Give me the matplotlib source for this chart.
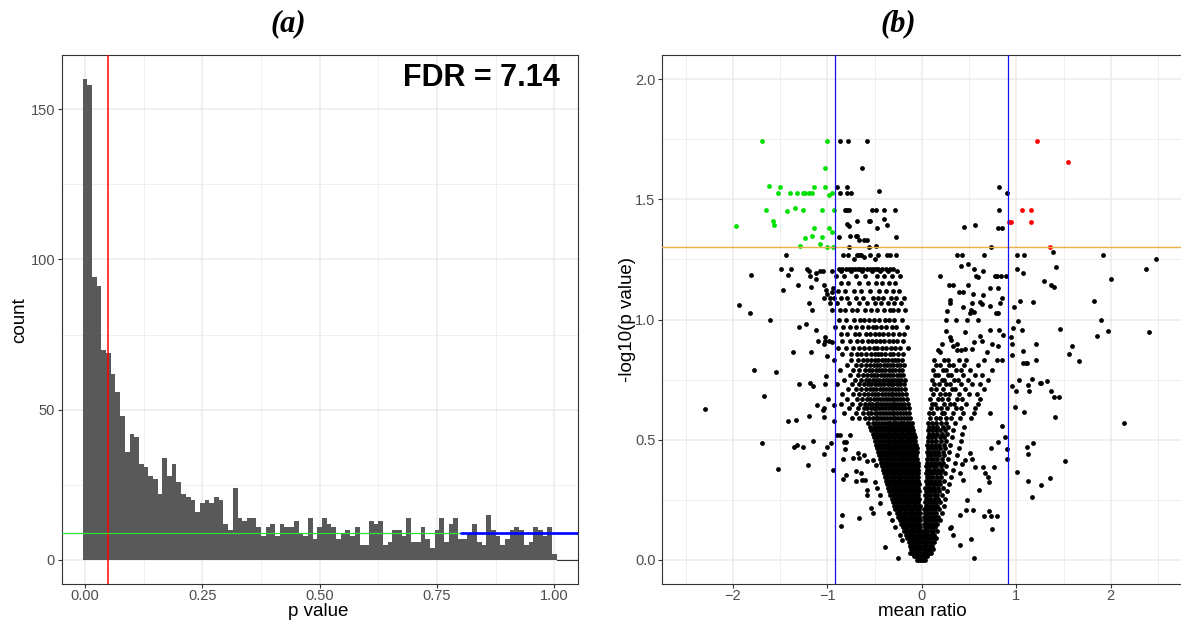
import matplotlib
matplotlib.use("Agg")
import matplotlib.pyplot as plt
from matplotlib.ticker import FixedLocator
import numpy as np

# ---------------- panel (a): p-value histogram ----------------
p_bin_width = 0.01
p_counts = [160, 158, 94, 91, 70, 69, 62, 56, 48, 36,
            42, 41, 32, 31, 28, 27, 22, 34, 28, 32,
            26, 22, 21, 20, 16, 19, 20, 19, 21, 20,
            12, 10, 24, 14, 13, 14, 14, 11, 8, 11,
            12, 8, 12, 11, 11, 13, 9, 8, 14, 7,
            11, 14, 12, 11, 7, 9, 10, 8, 11, 5,
            5, 13, 12, 13, 5, 6, 10, 10, 8, 14,
            6, 6, 11, 7, 4, 10, 14, 6, 12, 14,
            7, 7, 9, 12, 6, 5, 15, 10, 8, 5,
            7, 10, 11, 10, 5, 6, 11, 10, 8, 11,
            2]
p_cutoff = 0.05
null_level = 8.9
null_start = 0.8
fdr_label = "FDR = 7.14"
hist_xticks = [0.0, 0.25, 0.5, 0.75, 1.0]
hist_xticklabels = ["0.00", "0.25", "0.50", "0.75", "1.00"]
hist_yticks = [0, 50, 100, 150]

# ---------------- panel (b): volcano plot ----------------
ratio_cut = 0.915
logp_cut = 1.301
volc_xticks = [-2, -1, 0, 1, 2]
volc_yticks = [0.0, 0.5, 1.0, 1.5, 2.0]

sig_down_x = [-1.69, -1.007, -1.022, -1.615, -1.505, -1.520, -1.393, -1.322, -1.262, -1.234,
              -1.198, -1.163, -1.139, -1.022, -0.951, -0.980, -1.650, -1.425, -1.347, -1.262,
              -1.061, -0.927, -1.965, -1.580, -1.562, -1.139, -0.980, -0.951, -1.234, -1.160,
              -1.057, -1.290, -1.075, -1.001, -0.938]
sig_down_y = [1.744, 1.744, 1.631, 1.557, 1.550, 1.525, 1.525, 1.525, 1.525, 1.525,
              1.525, 1.525, 1.550, 1.550, 1.525, 1.516, 1.454, 1.450, 1.463, 1.454,
              1.454, 1.454, 1.387, 1.408, 1.391, 1.380, 1.380, 1.362, 1.341, 1.349,
              1.344, 1.307, 1.314, 1.303, 1.303]

sig_up_x = [1.223, 1.545, 1.061, 1.157, 0.945, 0.927, 1.157, 1.355]
sig_up_y = [1.744, 1.654, 1.454, 1.454, 1.407, 1.407, 1.407, 1.303]

# scattered (non-significant) points read individually
other_x = [-0.863, -0.779, -0.581, -0.634, -0.902, -0.792, -0.866, -0.796, -0.750, -0.457,
           -0.81, -0.79, -0.77, -0.531, -0.488, -0.400, -0.281, -0.683, -0.789, -0.768,
           -0.563, -0.549, -0.397, -0.471, -0.369, -0.881, -0.761, -0.697, -0.683, -0.58,
           -0.615, -0.66, -0.273, -0.768, -0.563, -0.482,
           0.818, 0.906, 0.814, 0.450, 0.560, 0.81, 0.846, 0.737,
           -1.442, -0.832, -0.61, 0.373, 0.429, 0.659, 1.005, 1.083, 1.393, 1.916,
           2.474, 0.486, 0.415, 1.425, -1.488, -1.389, -1.213, -1.08, -1.05, -0.95,
           -1.19, 0.55, 0.65, 1.005, 2.372, 1.072, -1.809, -1.421, -1.124, -1.12,
           -1.18, 0.193, 0.577, 0.6, 0.78, 0.80, 0.84, 0.89, 1.289, 2.0,
           1.372, 1.401, -1.308, -1.171, -1.033, -1.015, -1.004, -0.951, -0.937, -1.474,
           1.040, 1.181, 1.824, 0.977, -1.04, -0.97, -0.93, -1.19, -0.97, -1.936,
           -1.16, -0.95, -1.817, -1.608, 1.895, 1.019, -1.230, -1.304, -1.121, 1.065,
           0.966, 1.467, 1.976, 2.40, 1.856, -1.022, 0.94, -1.10, -1.03, -1.02,
           -0.98, -0.95, 0.95, 1.206, 1.594, 1.075, -1.364, -1.177, 1.563, 0.95,
           -1.008, 1.213, 1.665, 1.075, 1.10, 1.115, -1.781, -1.544, -1.018, 1.164,
           1.026, 1.33, 1.25, 1.26, -1.184, -1.02, -1.298, 1.125, -1.149, 0.95,
           0.994, 1.139, 1.372, -1.675, 1.397, 1.450, -0.99, -1.107, -0.93, 0.990,
           -2.293, -1.03, -1.05, 1.079, -1.19, 1.411, -1.04, -1.333, -1.417, -0.93,
           2.139,
           -1.149, -0.962, -1.696, 1.178, 1.109, -1.357, -1.325, -1.255, -1.00, -1.04,
           1.122, -1.209, -1.523, -0.944, 1.514, 1.012, 1.128, 1.266, 1.355, 1.162,
           -0.831, -0.838, -0.803, -0.70, -0.647, -0.70, -0.634, -0.602, -0.732, -0.672,
           -0.66, -0.609, -0.577, -0.496, -0.478, -0.577, -0.443, -0.849, -0.662, -0.859,
           -0.541, -0.514, -0.443, -0.390, -0.249, -0.344, -0.319, -0.284, -0.231, -0.213,
           -0.125, -0.867, -0.90, -0.76, -0.82, -0.80, -0.81, -0.52, -0.49, -0.58,
           0.846, 0.881, 0.906, 0.906, 0.810, 0.733, 0.765, 0.715, 0.705, 0.609,
           0.564, 0.645, 0.669, 0.511, 0.405, 0.440, 0.476, 0.468, 0.546, 0.405,
           0.662, 0.733, 0.793, 0.715, 0.747, 0.518, 0.556, 0.405, 0.334, 0.306,
           0.30, 0.53, 0.46, 0.43,
           0.291, 0.334, 0.486, 0.397, 0.44, 0.539, 0.645, 0.722, 0.81, 0.846,
           0.299, 0.299, 0.44, 0.535, 0.617, 0.635, 0.722, 0.828, 0.264, 0.52,
           0.55, 0.51, 0.786, 0.81, 0.256, 0.359, 0.476, 0.599, 0.256, 0.456,
           0.617, 0.635, 0.722, 0.82, 0.863, 0.30, 0.31, 0.21, 0.175, 0.193,
           0.334, 0.37, 0.37, 0.42, 0.456, 0.535, 0.55, 0.69, 0.74, 0.81,
           0.846]
other_y = [1.744, 1.744, 1.744, 1.630, 1.550, 1.550, 1.525, 1.525, 1.525, 1.534,
           1.454, 1.454, 1.454, 1.454, 1.454, 1.454, 1.454, 1.408, 1.396, 1.387,
           1.408, 1.408, 1.420, 1.380, 1.391, 1.344, 1.349, 1.349, 1.349, 1.33,
           1.33, 1.33, 1.343, 1.303, 1.303, 1.307,
           1.550, 1.525, 1.454, 1.384, 1.391, 1.380, 1.380, 1.303,
           1.270, 1.270, 1.26, 1.269, 1.270, 1.270, 1.270, 1.270, 1.281, 1.270,
           1.25, 1.232, 1.222, 1.22, 1.21, 1.21, 1.21, 1.20, 1.20, 1.20,
           1.20, 1.21, 1.20, 1.21, 1.21, 1.193, 1.185, 1.183, 1.195, 1.169,
           1.18, 1.18, 1.18, 1.175, 1.18, 1.18, 1.18, 1.18, 1.161, 1.167,
           1.143, 1.134, 1.143, 1.134, 1.145, 1.122, 1.105, 1.115, 1.131, 1.122,
           1.076, 1.071, 1.075, 1.052, 1.09, 1.09, 1.09, 1.07, 1.07, 1.062,
           1.04, 1.04, 1.025, 1.0, 1.0, 0.992, 0.983, 0.969, 0.957, 0.957,
           0.965, 0.960, 0.954, 0.946, 0.932, 0.928, 0.928, 0.91, 0.90, 0.91,
           0.91, 0.905, 0.899, 0.899, 0.889, 0.870, 0.863, 0.863, 0.857, 0.852,
           0.849, 0.830, 0.827, 0.82, 0.82, 0.82, 0.789, 0.782, 0.763, 0.751,
           0.749, 0.745, 0.735, 0.735, 0.735, 0.733, 0.730, 0.727, 0.725, 0.725,
           0.703, 0.703, 0.703, 0.681, 0.677, 0.677, 0.67, 0.644, 0.644, 0.636,
           0.629, 0.63, 0.622, 0.614, 0.598, 0.596, 0.594, 0.583, 0.578, 0.578,
           0.569,
           0.494, 0.486, 0.485, 0.486, 0.471, 0.47, 0.476, 0.47, 0.47, 0.44,
           0.44, 0.396, 0.378, 0.374, 0.410, 0.367, 0.330, 0.312, 0.339, 0.263,
           0.418, 0.335, 0.353, 0.370, 0.360, 0.330, 0.332, 0.332, 0.425, 0.443,
           0.425, 0.436, 0.291, 0.325, 0.298, 0.270, 0.270, 0.187, 0.173, 0.141,
           0.217, 0.197, 0.235, 0.053, 0.010, 0.194, 0.166, 0.138, 0.104, 0.083,
           0.028, 0.519, 0.52, 0.52, 0.49, 0.49, 0.46, 0.415, 0.395, 0.41,
           0.558, 0.512, 0.461, 0.421, 0.489, 0.467, 0.385, 0.325, 0.346, 0.291,
           0.388, 0.388, 0.360, 0.443, 0.360, 0.332, 0.249, 0.208, 0.208, 0.187,
           0.184, 0.184, 0.184, 0.205, 0.129, 0.087, 0.010, 0.062, 0.104, 0.138,
           0.132, 0.42, 0.415, 0.40,
           1.145, 1.145, 1.142, 1.113, 1.113, 1.108, 1.102, 1.133, 1.133, 1.091,
           1.083, 1.069, 1.052, 1.069, 1.073, 1.065, 1.058, 1.070, 1.035, 1.04,
           1.03, 1.025, 1.025, 1.025, 1.0, 1.0, 1.0, 1.0, 0.953, 0.947,
           0.932, 0.911, 0.958, 0.955, 0.935, 0.928, 0.914, 0.897, 0.872, 0.866,
           0.89, 0.897, 0.872, 0.875, 0.877, 0.879, 0.906, 0.864, 0.897, 0.89,
           0.83]

# dense left arm of the volcano, read row by row: (-log10 p, [mean ratios])
left_arm_rows = [
    (0.000, [-0.05, -0.03, -0.01, 0.01, 0.03]),
    (0.015, [-0.08, -0.06, -0.04, -0.02, 0.00, 0.02, 0.04, 0.06]),
    (0.030, [-0.10, -0.08, -0.055, -0.035, -0.015]),
    (0.045, [-0.11, -0.09, -0.07, -0.05, -0.03, -0.01]),
    (0.060, [-0.13, -0.105, -0.085, -0.06, -0.04, -0.02]),
    (0.075, [-0.14, -0.12, -0.095, -0.075, -0.05, -0.03, -0.01]),
    (0.090, [-0.16, -0.135, -0.11, -0.09, -0.065, -0.045, -0.02]),
    (0.105, [-0.17, -0.15, -0.125, -0.10, -0.08, -0.055, -0.03, -0.01]),
    (0.120, [-0.19, -0.165, -0.14, -0.115, -0.09, -0.07, -0.045, -0.02]),
    (0.135, [-0.20, -0.18, -0.155, -0.13, -0.105, -0.08, -0.06, -0.035, -0.015]),
    (0.150, [-0.22, -0.195, -0.17, -0.145, -0.12, -0.095, -0.07, -0.05, -0.025]),
    (0.165, [-0.235, -0.21, -0.185, -0.16, -0.135, -0.11, -0.085, -0.06, -0.035, -0.015]),
    (0.180, [-0.25, -0.225, -0.20, -0.175, -0.15, -0.125, -0.10, -0.075, -0.05, -0.025]),
    (0.195, [-0.265, -0.24, -0.215, -0.19, -0.165, -0.14, -0.115, -0.09, -0.065, -0.04, -0.02]),
    (0.210, [-0.28, -0.255, -0.23, -0.205, -0.18, -0.155, -0.13, -0.105, -0.08, -0.055, -0.03]),
    (0.225, [-0.295, -0.27, -0.245, -0.22, -0.195, -0.17, -0.145, -0.12, -0.095, -0.07, -0.045, -0.02]),
    (0.240, [-0.31, -0.285, -0.26, -0.235, -0.21, -0.185, -0.16, -0.135, -0.11, -0.085, -0.06, -0.035]),
    (0.255, [-0.32, -0.295, -0.27, -0.245, -0.22, -0.195, -0.17, -0.145, -0.12, -0.095, -0.07, -0.045, -0.025]),
    (0.270, [-0.335, -0.31, -0.285, -0.26, -0.235, -0.21, -0.185, -0.16, -0.135, -0.11, -0.085, -0.06, -0.035]),
    (0.285, [-0.35, -0.32, -0.295, -0.27, -0.245, -0.22, -0.195, -0.17, -0.145, -0.12, -0.095, -0.07, -0.045, -0.025]),
    (0.300, [-0.36, -0.335, -0.31, -0.285, -0.26, -0.235, -0.21, -0.185, -0.16, -0.135, -0.11, -0.085, -0.06, -0.035]),
    (0.315, [-0.37, -0.345, -0.32, -0.295, -0.27, -0.245, -0.22, -0.195, -0.17, -0.145, -0.12, -0.095, -0.07, -0.045, -0.03]),
    (0.330, [-0.38, -0.355, -0.33, -0.305, -0.28, -0.255, -0.23, -0.205, -0.18, -0.155, -0.13, -0.105, -0.08, -0.055, -0.035]),
    (0.345, [-0.39, -0.365, -0.34, -0.315, -0.29, -0.265, -0.24, -0.215, -0.19, -0.165, -0.14, -0.115, -0.09, -0.065, -0.04]),
    (0.360, [-0.40, -0.37, -0.345, -0.32, -0.295, -0.27, -0.245, -0.22, -0.195, -0.17, -0.145, -0.12, -0.095, -0.07, -0.045]),
    (0.375, [-0.41, -0.38, -0.355, -0.33, -0.305, -0.28, -0.255, -0.23, -0.205, -0.18, -0.155, -0.13, -0.105, -0.08, -0.055, -0.035]),
    (0.390, [-0.42, -0.39, -0.36, -0.335, -0.31, -0.285, -0.26, -0.235, -0.21, -0.185, -0.16, -0.135, -0.11, -0.085, -0.06, -0.04]),
    (0.405, [-0.43, -0.40, -0.37, -0.345, -0.32, -0.295, -0.27, -0.245, -0.22, -0.195, -0.17, -0.145, -0.12, -0.095, -0.07, -0.045]),
    (0.420, [-0.44, -0.41, -0.38, -0.355, -0.33, -0.305, -0.28, -0.255, -0.23, -0.205, -0.18, -0.155, -0.13, -0.105, -0.08, -0.055]),
    (0.435, [-0.45, -0.42, -0.39, -0.36, -0.335, -0.31, -0.285, -0.26, -0.235, -0.21, -0.185, -0.16, -0.135, -0.11, -0.085, -0.06]),
    (0.450, [-0.46, -0.43, -0.40, -0.37, -0.345, -0.32, -0.295, -0.27, -0.245, -0.22, -0.195, -0.17, -0.145, -0.12, -0.095, -0.07, -0.05]),
    (0.465, [-0.47, -0.44, -0.41, -0.38, -0.355, -0.33, -0.305, -0.28, -0.255, -0.23, -0.205, -0.18, -0.155, -0.13, -0.105, -0.08, -0.055]),
    (0.480, [-0.48, -0.45, -0.42, -0.39, -0.36, -0.335, -0.31, -0.285, -0.26, -0.235, -0.21, -0.185, -0.16, -0.135, -0.11, -0.085, -0.06]),
    (0.495, [-0.50, -0.46, -0.43, -0.40, -0.37, -0.345, -0.32, -0.295, -0.27, -0.245, -0.22, -0.195, -0.17, -0.145, -0.12, -0.095, -0.07]),
    (0.510, [-0.51, -0.47, -0.44, -0.41, -0.38, -0.355, -0.33, -0.305, -0.28, -0.255, -0.23, -0.205, -0.18, -0.155, -0.13, -0.105, -0.075]),
    (0.525, [-0.52, -0.48, -0.45, -0.42, -0.39, -0.36, -0.335, -0.31, -0.285, -0.26, -0.235, -0.21, -0.185, -0.16, -0.135, -0.11, -0.08]),
    (0.540, [-0.54, -0.50, -0.46, -0.43, -0.40, -0.37, -0.345, -0.32, -0.295, -0.27, -0.245, -0.22, -0.195, -0.17, -0.145, -0.12, -0.09]),
    (0.555, [-0.55, -0.51, -0.47, -0.44, -0.41, -0.38, -0.355, -0.33, -0.305, -0.28, -0.255, -0.23, -0.205, -0.18, -0.155, -0.13, -0.10]),
    (0.570, [-0.57, -0.52, -0.48, -0.45, -0.42, -0.39, -0.36, -0.335, -0.31, -0.285, -0.26, -0.235, -0.21, -0.185, -0.16, -0.135, -0.105]),
    (0.590, [-0.74, -0.66, -0.60, -0.555, -0.52, -0.49, -0.46, -0.43, -0.40, -0.37, -0.34, -0.31, -0.28, -0.25, -0.22, -0.19, -0.16, -0.12]),
    (0.610, [-0.82, -0.70, -0.62, -0.57, -0.535, -0.50, -0.47, -0.44, -0.41, -0.38, -0.35, -0.32, -0.29, -0.26, -0.23, -0.20, -0.17, -0.135]),
    (0.630, [-0.77, -0.68, -0.61, -0.575, -0.54, -0.51, -0.48, -0.45, -0.42, -0.39, -0.36, -0.33, -0.30, -0.27, -0.24, -0.21, -0.18, -0.14]),
    (0.650, [-0.86, -0.74, -0.65, -0.60, -0.56, -0.525, -0.49, -0.46, -0.43, -0.40, -0.37, -0.34, -0.31, -0.28, -0.25, -0.22, -0.19, -0.15]),
    (0.670, [-0.79, -0.69, -0.63, -0.58, -0.545, -0.51, -0.475, -0.44, -0.41, -0.38, -0.35, -0.32, -0.29, -0.26, -0.23, -0.195, -0.16]),
    (0.690, [-0.84, -0.73, -0.66, -0.61, -0.565, -0.53, -0.495, -0.46, -0.425, -0.39, -0.36, -0.33, -0.30, -0.27, -0.24, -0.205, -0.17]),
    (0.710, [-0.78, -0.70, -0.64, -0.59, -0.55, -0.515, -0.48, -0.445, -0.41, -0.375, -0.345, -0.315, -0.285, -0.25, -0.215, -0.18]),
    (0.730, [-0.90, -0.74, -0.67, -0.615, -0.57, -0.535, -0.50, -0.465, -0.43, -0.395, -0.36, -0.33, -0.30, -0.265, -0.23, -0.19]),
    (0.750, [-0.82, -0.71, -0.645, -0.595, -0.555, -0.52, -0.485, -0.45, -0.415, -0.38, -0.35, -0.32, -0.285, -0.25, -0.215, -0.18]),
    (0.770, [-0.76, -0.68, -0.625, -0.58, -0.54, -0.505, -0.47, -0.435, -0.40, -0.365, -0.335, -0.30, -0.265, -0.23, -0.195]),
    (0.790, [-0.87, -0.73, -0.66, -0.605, -0.56, -0.525, -0.49, -0.455, -0.42, -0.385, -0.35, -0.315, -0.28, -0.245, -0.21]),
    (0.810, [-0.79, -0.70, -0.64, -0.59, -0.55, -0.51, -0.475, -0.44, -0.405, -0.37, -0.335, -0.30, -0.265, -0.23, -0.19]),
    (0.830, [-0.93, -0.75, -0.675, -0.62, -0.575, -0.535, -0.495, -0.46, -0.425, -0.39, -0.355, -0.32, -0.285, -0.25, -0.21]),
    (0.855, [-0.84, -0.75, -0.69, -0.64, -0.59, -0.54, -0.50, -0.46, -0.43, -0.39, -0.34, -0.30, -0.25, -0.20]),
    (0.880, [-0.89, -0.80, -0.73, -0.67, -0.61, -0.56, -0.51, -0.47, -0.42, -0.38, -0.33, -0.28, -0.23, -0.15]),
    (0.910, [-0.84, -0.76, -0.69, -0.63, -0.57, -0.53, -0.49, -0.44, -0.40, -0.35, -0.31, -0.26, -0.20]),
    (0.940, [-0.86, -0.79, -0.71, -0.66, -0.59, -0.55, -0.50, -0.45, -0.41, -0.36, -0.30, -0.24, -0.19]),
    (0.970, [-0.92, -0.83, -0.76, -0.70, -0.63, -0.57, -0.52, -0.48, -0.43, -0.38, -0.32, -0.27, -0.16]),
    (1.000, [-0.88, -0.80, -0.72, -0.65, -0.61, -0.56, -0.51, -0.45, -0.39, -0.35, -0.29, -0.21]),
    (1.040, [-0.87, -0.81, -0.74, -0.69, -0.60, -0.54, -0.47, -0.40, -0.34, -0.31, -0.25, -0.18]),
    (1.070, [-0.90, -0.77, -0.67, -0.58, -0.50, -0.43, -0.36, -0.29, -0.22]),
    (1.090, [-0.85, -0.79, -0.70, -0.62, -0.52, -0.46, -0.41, -0.33, -0.27, -0.19]),
    (1.120, [-0.89, -0.81, -0.72, -0.64, -0.55, -0.45, -0.38, -0.30, -0.24]),
    (1.150, [-0.86, -0.78, -0.66, -0.57, -0.49, -0.42, -0.35, -0.28]),
    (1.180, [-0.91, -0.82, -0.70, -0.60, -0.47, -0.40, -0.32, -0.23]),
    (1.200, [-0.86, -0.75, -0.63, -0.53, -0.44, -0.36, -0.26]),
    (1.210, [-0.88, -0.84, -0.80, -0.77, -0.74, -0.71, -0.68, -0.65, -0.62, -0.58, -0.55, -0.52,
             -0.49, -0.46, -0.42, -0.38, -0.34, -0.30]),
    (1.250, [-0.72, -0.50]),
    (1.270, [-0.78, -0.69, -0.67, -0.64, -0.55, -0.459, -0.372, -0.337, -0.273]),
]

# dense right arm of the volcano, read row by row
right_arm_rows = [
    (0.030, [0.01, 0.035, 0.05, 0.08, 0.10]),
    (0.045, [0.02, 0.04, 0.065, 0.09, 0.12]),
    (0.060, [0.01, 0.03, 0.06, 0.085, 0.11]),
    (0.075, [0.025, 0.045, 0.07, 0.10, 0.13]),
    (0.090, [0.015, 0.04, 0.065, 0.09, 0.12, 0.15]),
    (0.105, [0.02, 0.05, 0.075, 0.105, 0.13]),
    (0.120, [0.015, 0.035, 0.06, 0.095, 0.12, 0.16]),
    (0.135, [0.03, 0.055, 0.08, 0.11, 0.14]),
    (0.150, [0.02, 0.04, 0.07, 0.10, 0.125, 0.165]),
    (0.165, [0.03, 0.06, 0.085, 0.115, 0.15, 0.19]),
    (0.180, [0.02, 0.045, 0.075, 0.105, 0.135, 0.175]),
    (0.195, [0.035, 0.06, 0.09, 0.12, 0.155, 0.21]),
    (0.210, [0.025, 0.05, 0.08, 0.11, 0.145, 0.18]),
    (0.225, [0.04, 0.065, 0.095, 0.13, 0.165, 0.23]),
    (0.240, [0.03, 0.055, 0.085, 0.12, 0.15, 0.195]),
    (0.255, [0.045, 0.07, 0.10, 0.135, 0.17, 0.25]),
    (0.270, [0.03, 0.06, 0.09, 0.125, 0.16, 0.21]),
    (0.285, [0.045, 0.075, 0.11, 0.145, 0.185, 0.27]),
    (0.300, [0.035, 0.065, 0.095, 0.13, 0.17, 0.22]),
    (0.315, [0.05, 0.08, 0.115, 0.155, 0.195, 0.29]),
    (0.330, [0.04, 0.07, 0.10, 0.14, 0.18, 0.235]),
    (0.345, [0.055, 0.085, 0.12, 0.16, 0.205, 0.31]),
    (0.360, [0.045, 0.075, 0.11, 0.15, 0.19, 0.25]),
    (0.375, [0.06, 0.09, 0.13, 0.17, 0.215, 0.33]),
    (0.390, [0.045, 0.08, 0.115, 0.155, 0.20, 0.26]),
    (0.405, [0.06, 0.095, 0.135, 0.18, 0.225, 0.35]),
    (0.420, [0.05, 0.085, 0.12, 0.165, 0.21, 0.275]),
    (0.435, [0.065, 0.10, 0.14, 0.185, 0.235, 0.37]),
    (0.450, [0.055, 0.09, 0.13, 0.17, 0.22, 0.29]),
    (0.465, [0.07, 0.105, 0.15, 0.195, 0.245, 0.39]),
    (0.480, [0.06, 0.095, 0.135, 0.18, 0.23, 0.30]),
    (0.495, [0.07, 0.11, 0.155, 0.205, 0.26, 0.41]),
    (0.510, [0.065, 0.10, 0.14, 0.19, 0.24, 0.32]),
    (0.525, [0.075, 0.115, 0.16, 0.21, 0.27, 0.43]),
    (0.540, [0.065, 0.105, 0.15, 0.195, 0.25, 0.33]),
    (0.555, [0.08, 0.12, 0.165, 0.22, 0.28, 0.45]),
    (0.570, [0.07, 0.11, 0.155, 0.20, 0.26, 0.35]),
    (0.590, [0.09, 0.15, 0.19, 0.26, 0.31, 0.40, 0.52]),
    (0.610, [0.08, 0.12, 0.21, 0.24, 0.33, 0.44, 0.55, 0.72]),
    (0.630, [0.10, 0.16, 0.20, 0.27, 0.36, 0.41, 0.56]),
    (0.650, [0.11, 0.14, 0.23, 0.30, 0.34, 0.47, 0.60]),
    (0.670, [0.09, 0.17, 0.21, 0.28, 0.37, 0.43, 0.62]),
    (0.690, [0.12, 0.19, 0.25, 0.29, 0.39, 0.50, 0.58]),
    (0.710, [0.10, 0.15, 0.22, 0.32, 0.35, 0.46, 0.66]),
    (0.730, [0.13, 0.18, 0.26, 0.30, 0.41, 0.53, 0.62]),
    (0.750, [0.11, 0.21, 0.24, 0.34, 0.38, 0.49, 0.70]),
    (0.770, [0.14, 0.17, 0.28, 0.31, 0.44, 0.56, 0.64]),
    (0.790, [0.12, 0.22, 0.26, 0.36, 0.42, 0.51, 0.74]),
    (0.810, [0.15, 0.19, 0.29, 0.33, 0.45, 0.60]),
    (0.830, [0.13, 0.24, 0.28, 0.39, 0.47, 0.66, 0.80]),
]

# ---------------- figure ----------------
W, H = 1181, 626
fig = plt.figure(figsize=(W / 100, H / 100), dpi=100)
fig.patch.set_facecolor("white")

SANS = ["Liberation Sans", "DejaVu Sans"]
TICK_C = "#4D4D4D"
GRID_C = "#EBEBEB"
BORDER_C = "#333333"


def style_axes(ax):
    for s in ax.spines.values():
        s.set_color(BORDER_C)
        s.set_linewidth(0.8)
    ax.tick_params(which="major", length=3.0, width=0.8, color=BORDER_C,
                   labelcolor=TICK_C, labelsize=10.5)
    ax.tick_params(axis="x", which="major", pad=0.8)
    ax.tick_params(axis="y", which="major", pad=1.6)
    ax.tick_params(which="minor", length=0)
    ax.grid(which="major", color=GRID_C, linewidth=1.1)
    ax.grid(which="minor", color=GRID_C, linewidth=0.55)
    ax.set_axisbelow(True)
    for lab in ax.get_xticklabels() + ax.get_yticklabels():
        lab.set_family(SANS)


bottom_px, top_px = 584, 55

# ---- (a) ----
ax1 = fig.add_axes([61.5 / W, 1 - bottom_px / H, (577.8 - 61.5) / W, (bottom_px - top_px) / H])
centers = np.arange(len(p_counts)) * p_bin_width
ax1.bar(centers, p_counts, width=p_bin_width, color="#595959", linewidth=0, zorder=2)
ax1.set_xlim(-0.05, 1.05)
ax1.set_ylim(-8, 168)
ax1.set_xticks(hist_xticks)
ax1.set_xticklabels(hist_xticklabels)
ax1.set_yticks(hist_yticks)
ax1.xaxis.set_minor_locator(FixedLocator([0.125, 0.375, 0.625, 0.875]))
ax1.yaxis.set_minor_locator(FixedLocator([25, 75, 125]))
style_axes(ax1)
ax1.plot([1.0 + p_bin_width / 2, 1.05], [0, 0], color="#333333", lw=0.8, zorder=3)
ax1.axvline(p_cutoff, color="red", lw=1.1, zorder=4)
ax1.axhline(null_level, color="#33DD33", lw=0.9, zorder=4)
ax1.plot([null_start, 1.05], [null_level, null_level], color="#0000FF", lw=1.9, zorder=5,
         solid_capstyle="butt")

fig.text(560 / W, 1 - 78 / H, fdr_label, ha="right", va="center", fontsize=22,
         fontweight="bold", family=SANS, color="black")

fig.text(318 / W, 1 - 612 / H, "p value", ha="center", va="center", fontsize=13.5,
         family=SANS, color="black")
fig.text(20 / W, 1 - 320 / H, "count", ha="center", va="center", rotation=90,
         fontsize=13.5, family=SANS, color="black")
fig.text(288 / W, 1 - 24 / H, "(a)", ha="center", va="center", fontsize=22,
         family=["Liberation Serif", "DejaVu Serif"], style="italic", fontweight="bold")

# ---- (b) ----
ax2 = fig.add_axes([662 / W, 1 - bottom_px / H, (1181.6 - 662) / W, (bottom_px - top_px) / H])
ax2.set_xlim(-2.75, 2.75)
ax2.set_ylim(-0.1, 2.1)
ax2.set_xticks(volc_xticks)
ax2.set_yticks(volc_yticks)
ax2.set_yticklabels(["%.1f" % v for v in volc_yticks])
ax2.xaxis.set_minor_locator(FixedLocator([-2.5, -1.5, -0.5, 0.5, 1.5, 2.5]))
ax2.yaxis.set_minor_locator(FixedLocator([0.25, 0.75, 1.25, 1.75]))
style_axes(ax2)

arm_x, arm_y = [], []
for yv, xs in left_arm_rows + right_arm_rows:
    arm_x.extend(xs)
    arm_y.extend([yv] * len(xs))

MS = 12
ax2.scatter(arm_x, arm_y, s=MS, c="black", linewidths=0, zorder=3)
ax2.scatter(other_x, other_y, s=MS, c="black", linewidths=0, zorder=3)
ax2.scatter(sig_down_x, sig_down_y, s=MS, c="#00E000", linewidths=0, zorder=4)
ax2.scatter(sig_up_x, sig_up_y, s=MS, c="#FF0000", linewidths=0, zorder=4)

ax2.axhline(logp_cut, color="#EBB04A", lw=1.0, zorder=5)
ax2.axvline(-ratio_cut, color="#1010EE", lw=0.9, zorder=5)
ax2.axvline(ratio_cut, color="#1010FF", lw=0.9, zorder=5)

fig.text(922 / W, 1 - 612 / H, "mean ratio", ha="center", va="center", fontsize=13.5,
         family=SANS, color="black")
fig.text(627 / W, 1 - 320 / H, "-log10(p value)", ha="center", va="center", rotation=90,
         fontsize=13.5, family=SANS, color="black")
fig.text(898 / W, 1 - 24 / H, "(b)", ha="center", va="center", fontsize=22,
         family=["Liberation Serif", "DejaVu Serif"], style="italic", fontweight="bold")

fig.savefig("out.png", dpi=100, facecolor="white")
